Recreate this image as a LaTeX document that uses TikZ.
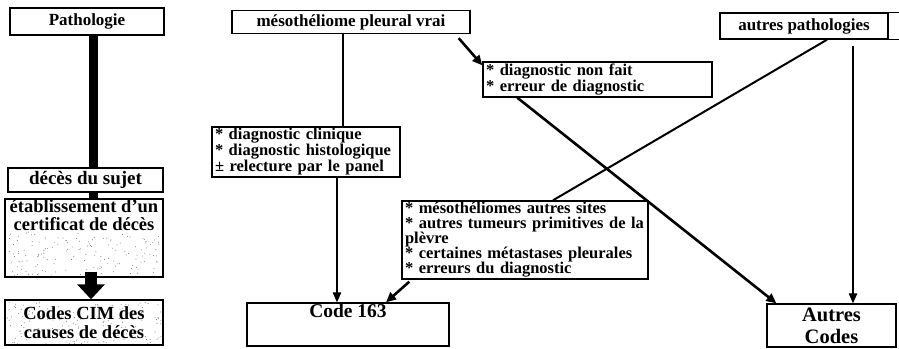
\documentclass[tikz,border=0pt]{standalone}
\usepackage{fontspec}
\setmainfont{Liberation Serif}
\usetikzlibrary{arrows.meta, positioning, calc}

\begin{document}
\begin{tikzpicture}[x=1pt, y=-1pt,
  box/.style={draw, line width=1.4pt, inner sep=2pt},
  titlebox/.style={box, font=\fontsize{17}{18}\selectfont\bfseries},
  leftbox/.style={box, font=\fontsize{18.5}{19}\selectfont\bfseries, align=center},
  listbox/.style={box, font=\fontsize{16.5}{16}\selectfont\bfseries, align=left, inner xsep=3pt, inner ysep=1pt},
  codebox/.style={box, font=\fontsize{20.5}{22}\selectfont\bfseries, align=center},
  bar/.style={line width=9pt},
  fatarrow/.style={line width=12pt, -{Triangle[length=15pt, width=27pt]}},
  plain/.style={line width=1.3pt},
  thin/.style={line width=1.3pt, -{Triangle[length=10pt, width=8.5pt]}},
  thick/.style={line width=2.6pt, -{Triangle[length=10pt, width=9pt]}},
]
  \useasboundingbox (0,0) rectangle (899,348);
  % Speckled scan background
  \pgfmathsetseed{42}
  \foreach \i in {1,...,150}
    \fill[black!55] ({7+154*rnd},{232+44*rnd}) circle (0.5);
  \foreach \i in {1,...,170}
    \fill[black!55] ({7+154*rnd},{302+42*rnd}) circle (0.5);
  % Left column
  \node[titlebox, minimum width=154, minimum height=27] (patho) at (87,21.5) {Pathologie};
  \node[leftbox, minimum width=155, minimum height=24, font=\fontsize{19}{19}\selectfont\bfseries] (deces) at (85.5,180) {décès du sujet};
  \node[box, minimum width=158, minimum height=78] (etab) at (84,238) {};
  \node[font=\fontsize{18.5}{18}\selectfont\bfseries, align=center, anchor=north, inner sep=1pt] (etabtxt) at (etab.north) {établissement d'un\\certificat de décès};
  \node[leftbox, minimum width=158, minimum height=45] (codes) at (84,322.5) {Codes CIM des\\causes de décès};
  \draw[bar] ($(patho.south)+(6,0)$) -- ($(deces.north)+(7.5,0)$);
  \draw[bar] ($(deces.south)+(7.5,0)$) -- ($(etab.north)+(9,0)$);
  \draw[fatarrow] ($(etab.south)+(7,-6)$) -- ($(codes.north)+(7,0)$);
  % True mesothelioma branch
  \node[titlebox, minimum width=238, minimum height=23] (meso) at (351,22) {mésothéliome pleural vrai};
  \node[listbox, text width=182, minimum height=50] (clin) at (306,152)
    {{*} diagnostic clinique\\{*} diagnostic histologique\\± relecture par le panel};
  \node[box, minimum width=202, minimum height=43] (code163) at (348,324.5) {};
  \node[font=\fontsize{19.5}{20}\selectfont\bfseries, anchor=north, inner sep=1pt] (codetxt) at (code163.north) {Code 163};
  \node[listbox, text width=223, minimum height=35] (nonfait) at (597.5,79.5)
    {{*} diagnostic non fait\\{*} erreur de diagnostic};
  % Other pathologies branch
  \node[titlebox, minimum width=168, minimum height=26] (autpath) at (804,26) {autres pathologies};
  \draw[line width=1.4pt] (autpath.north east) -- ++(11,0) (autpath.south east) -- ++(11,0);
  \node[listbox, text width=240, minimum height=78, font=\fontsize{16.5}{15}\selectfont\bfseries] (autsites) at (525,240)
    {{*} mésothéliomes autres sites\\{*} autres tumeurs primitives de la\\plèvre\\{*} certaines métastases pleurales\\{*} erreurs du diagnostic};
  \node[codebox, minimum width=129, minimum height=43] (autcodes) at (831.5,325.5) {Autres\\Codes};
  % Connectors
  \coordinate (m1) at ($(meso.south)+(-8,0)$);
  \draw[plain] (m1) -- (m1 |- clin.north);
  \coordinate (c1) at ($(code163.north)+(-11,0)$);
  \draw[thin] (c1 |- clin.south) -- (c1);
  \draw[thick] ($(meso.south east)+(-12,4)$) -- ($(nonfait.north west)+(0,4)$);
  \draw[thick] ($(nonfait.south west)+(35,0)$) -- ($(autcodes.north west)+(10,0)$);
  \draw[line width=2pt] ($(autpath.south)+(23,0)$) -- ($(autsites.north)+(28,0)$);
  \coordinate (a1) at ($(autcodes.north)+(21.5,0)$);
  \coordinate (a0) at (a1 |- autpath.south);
  \draw[thin] ($(a0)+(0,6)$) -- (a1);
  \draw[thick] ($(autsites.south west)+(8,2)$) -- ($(code163.north)+(38,0)$);
\end{tikzpicture}
\end{document}
